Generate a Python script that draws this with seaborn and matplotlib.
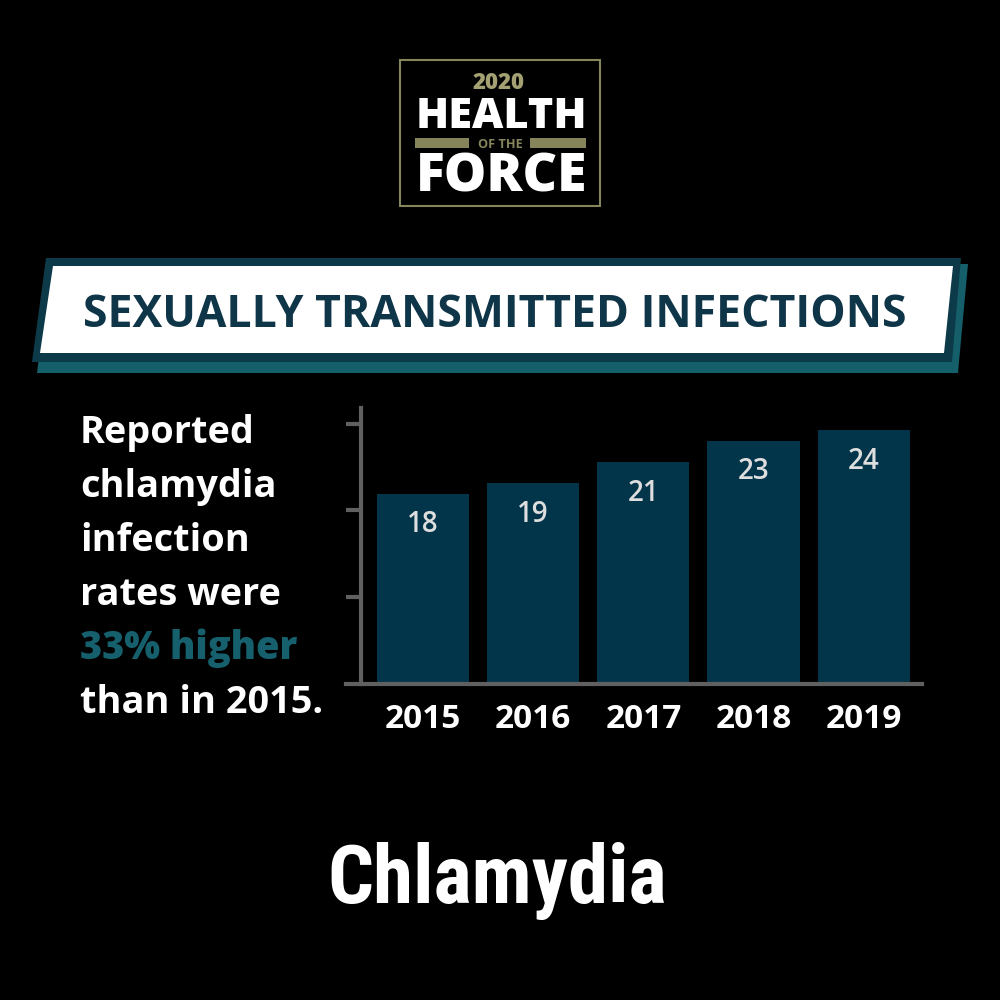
import numpy as np
import matplotlib
matplotlib.use("Agg")
import matplotlib.pyplot as plt
import seaborn as sns
from matplotlib.patches import Polygon, Rectangle

# chart data
years = ["2015", "2016", "2017", "2018", "2019"]
rates = [18, 19, 21, 23, 24]

# texts
side_lines = ["Reported", "chlamydia", "infection", "rates were", "33% higher", "than in 2015."]
highlight_line = "33% higher"
banner_title = "SEXUALLY TRANSMITTED INFECTIONS"
chart_title = "Chlamydia"
logo_year = "2020"
logo_top = "HEALTH"
logo_mid = "OF THE"
logo_bottom = "FORCE"

BG = "black"
BAR = "#02354a"
TEAL = "#16606e"
NAVY = "#0f3548"
BORDER = "#0d3a49"
SHADOW = "#155f6b"
OLIVE = "#86845a"
AXIS = "#606060"

sns.set_theme(style="dark")
plt.rcParams["font.family"] = ["Open Sans", "DejaVu Sans"]
NARROW = ["Roboto Condensed", "Open Sans Condensed", "Roboto", "DejaVu Sans"]
HEAVY = ["Open Sans", "DejaVu Sans"]

fig = plt.figure(figsize=(10, 10), dpi=100, facecolor=BG)

# full-figure overlay in pixel coordinates for the decorations
bg = fig.add_axes([0, 0, 1, 1])
bg.set_xlim(0, 1000)
bg.set_ylim(1000, 0)
bg.axis("off")


def fit(t, width):
    r = fig.canvas.get_renderer()
    w = t.get_window_extent(r).width
    t.set_fontsize(t.get_fontsize() * width / w)


# logo
bg.add_patch(Rectangle((400, 60), 200, 146, fill=False, ec=OLIVE, lw=1.5))
t = bg.text(499, 89, logo_year, color="#a3a172", ha="center", va="baseline",
            fontsize=16, fontweight="heavy", family=HEAVY)
fit(t, 52)
t = bg.text(501, 128, logo_top, color="white", ha="center", va="baseline",
            fontsize=30, fontweight="heavy", family=HEAVY)
fit(t, 171)
bg.add_patch(Rectangle((415, 138), 54, 10, color=OLIVE, lw=0))
bg.add_patch(Rectangle((530, 138), 56, 10, color=OLIVE, lw=0))
t = bg.text(500, 148.5, logo_mid, color=OLIVE, ha="center", va="baseline",
            fontsize=8, fontweight="bold", family=HEAVY)
fit(t, 45)
t = bg.text(502, 191, logo_bottom, color="white", ha="center", va="baseline",
            fontsize=30, fontweight="heavy", family=HEAVY)
fit(t, 171)

# banner
bg.add_patch(Polygon([(50, 266), (968, 264), (958, 373), (37, 373)], color=SHADOW, lw=0))
bg.add_patch(Polygon([(46, 258), (961, 258), (952, 362), (32, 362)], color=BORDER, lw=0))
bg.add_patch(Polygon([(53, 266), (953, 266), (944, 353), (40, 353)], color="white", lw=0))
t = bg.text(495, 327, banner_title, color=NAVY, ha="center", va="baseline",
            fontsize=30, fontweight="bold")
fit(t, 824)

# left side text
side_texts = []
for i, line in enumerate(side_lines):
    col = TEAL if line == highlight_line else "white"
    weight = "heavy" if line == highlight_line else "bold"
    t = bg.text(80, 443 + 54 * i, line, color=col, ha="left", va="baseline",
                fontsize=23, fontweight=weight)
    side_texts.append(t)
fit(side_texts[-1], 243)
for t in side_texts:
    t.set_fontsize(side_texts[-1].get_fontsize())

# bottom title
t = bg.text(497, 903, chart_title, color="white", ha="center", va="baseline",
            fontsize=60, fontweight="bold", fontstretch="condensed", family=NARROW)
fit(t, 340)

# bar chart
ax = fig.add_axes([0.346, 0.316, 0.576, 0.276])
ax.set_facecolor("none")
sns.barplot(x=years, y=rates, color=BAR, width=0.836, saturation=1,
            edgecolor=BAR, linewidth=0, ax=ax)
ax.set_xlim(-0.7, 4.53)
ax.set_ylim(0, 26.1)
for i, v in enumerate(rates):
    ax.text(i, v - 2.95, str(v), color="#dedede", ha="center", va="center",
            fontsize=20, fontweight="semibold")

for s in ["top", "right"]:
    ax.spines[s].set_visible(False)
ax.spines["left"].set_position(("data", -0.564))
ax.spines["left"].set_color(AXIS)
ax.spines["left"].set_linewidth(3)
ax.spines["bottom"].set_color(AXIS)
ax.spines["bottom"].set_linewidth(3)
ax.set_yticks([8.2, 16.5, 24.6])
ax.set_yticklabels([])
ax.tick_params(axis="y", length=11, width=3, color=AXIS, direction="out", left=True)
ax.tick_params(axis="x", length=0, pad=14, labelsize=24, labelcolor="white")
for lab in ax.get_xticklabels():
    lab.set_fontweight("bold")
ax.set_xlabel("")
ax.set_ylabel("")
ax.grid(False)

fig.savefig("out.png", dpi=100, facecolor=BG)
